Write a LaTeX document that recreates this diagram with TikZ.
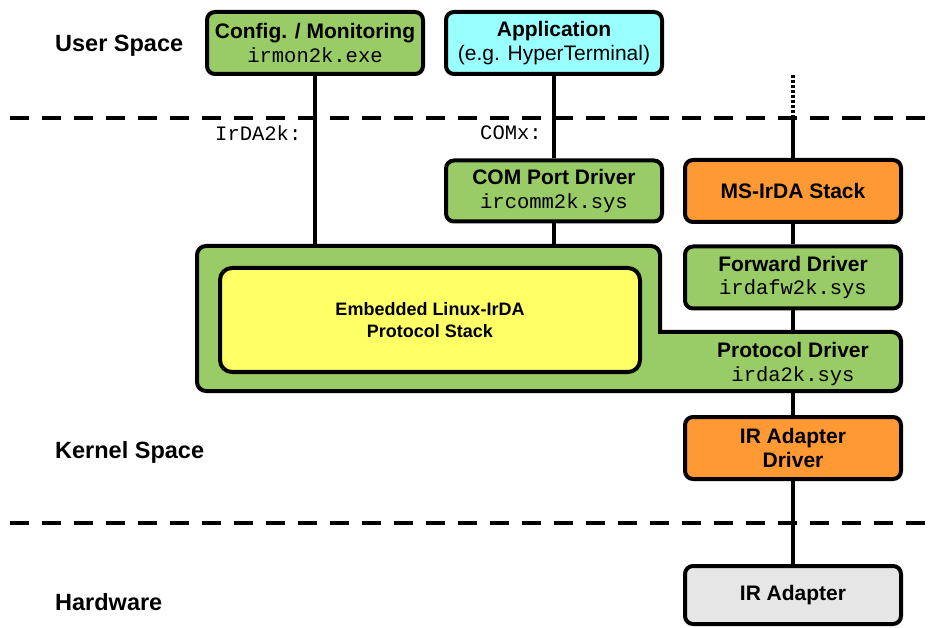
\documentclass[tikz,border=0pt]{standalone}
\usepackage{fontspec}
\setmainfont{Liberation Sans}
\newfontfamily\codefont{Liberation Mono}
\definecolor{leaf}{RGB}{153,204,102}
\definecolor{sky}{RGB}{153,255,255}
\definecolor{amber}{RGB}{255,153,51}
\definecolor{lemon}{RGB}{255,255,102}
\definecolor{ash}{RGB}{230,230,230}
\newcommand\titlesize{\fontsize{21}{23.5}\selectfont\bfseries}
\newcommand\code[1]{{\codefont\mdseries\fontsize{20.5}{23.5}\selectfont #1}}
\begin{document}
\begin{tikzpicture}[x=1pt,y=-1pt,
  layer/.style={draw=black, line width=4pt, rounded corners=8pt,
    minimum width=216pt, minimum height=62pt, align=center,
    inner sep=0pt, font=\titlesize},
  link/.style={line width=4pt},
  sep/.style={line width=4pt, dash pattern=on 19pt off 13pt},
  zone/.style={anchor=west, inner sep=0pt, font=\fontsize{23.5}{26}\selectfont\bfseries},
  plain/.style={align=center, inner sep=0pt, font=\titlesize}]
\useasboundingbox (0,0) rectangle (932,628);

% privilege boundaries
\draw[sep] (10,118) -- (932,118);
\draw[sep] (10,523) -- (932,523);

% zone labels
\node[zone] (user) at (55,46) {User Space};
\node[zone] (kernel) at (55,452) {Kernel Space};
\node[zone] (hw) at (55,602) {Hardware};

% driver host with embedded stack
\draw[line width=4pt, fill=leaf, rounded corners=9pt]
  (197,391) -- (197,246) -- (660,246) [sharp corners] -- (660,332)
  [rounded corners=9pt] -- (901,332) -- (901,391) -- cycle;
\node[draw=black, line width=4pt, fill=lemon, rounded corners=12pt,
  minimum width=420pt, minimum height=104pt, align=center,
  font=\fontsize{18}{22.5}\selectfont\bfseries] (stack) at (430,320)
  {Embedded Linux-IrDA\\Protocol Stack};
\node[plain] (proto) at (793,364) {Protocol Driver\\\code{irda2k.sys}};
\coordinate (hostA) at (315,244);
\coordinate (hostB) at (554,244);
\coordinate (protoTop) at (793,330);
\coordinate (protoBot) at (793,393);

% layers
\node[layer, fill=leaf] (cfg) at (315,43) {Config. / Monitoring\\\code{irmon2k.exe}};
\node[layer, fill=sky] (app) at (554,43) {Application\\{\mdseries(e.g. HyperTerminal)}};
\node[layer, fill=leaf, minimum height=61pt] (com) at (554,191) {COM Port Driver\\\code{ircomm2k.sys}};
\node[layer, fill=amber] (ms) at (793,191) {MS-IrDA Stack};
\node[layer, fill=leaf] (fwd) at (793,277.5) {Forward Driver\\\code{irdafw2k.sys}};
\node[layer, fill=amber] (irdrv) at (793,448) {IR Adapter\\Driver};
\node[layer, fill=ash, minimum height=58pt] (ira) at (793,595) {IR Adapter};

% device names
\node[anchor=west, inner sep=0pt] (devA) at (215,133) {\code{IrDA2k:}};
\node[anchor=west, inner sep=0pt] (devB) at (480,133) {\code{COMx:}};

% connections
\coordinate (upper) at (793,75);
\coordinate (cross) at (793,116);
\draw[link] (cfg.south) -- (hostA);
\draw[link] (app.south) -- (com.north);
\draw[link] (com.south) -- (hostB);
\draw[line width=4pt, dash pattern=on 3pt off 2pt] (upper) -- (cross);
\draw[link] (cross) -- (ms.north);
\draw[link] (ms.south) -- (fwd.north);
\draw[link] (fwd.south) -- (protoTop);
\draw[link] (protoBot) -- (irdrv.north);
\draw[link] (irdrv.south) -- (ira.north);
\end{tikzpicture}
\end{document}
